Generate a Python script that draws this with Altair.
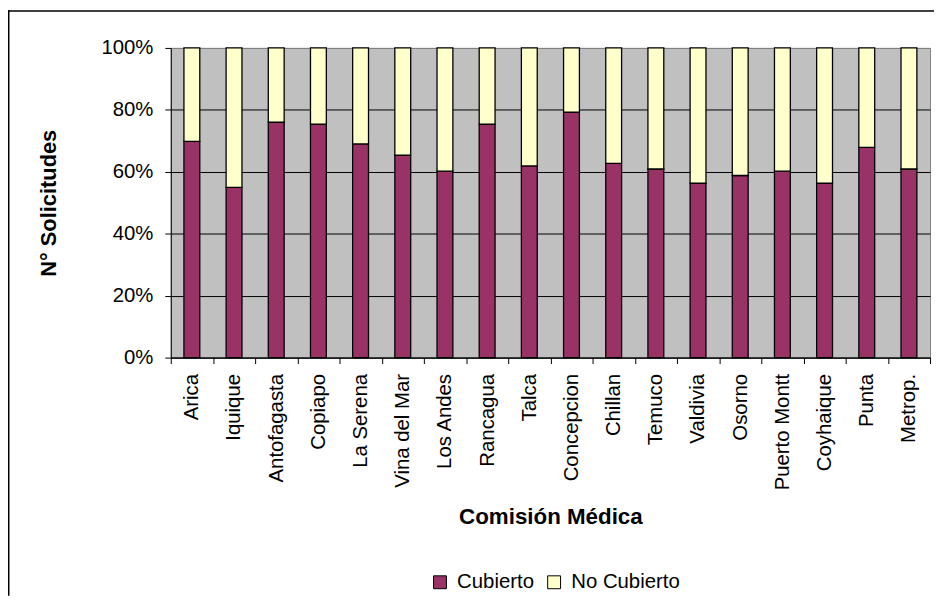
import altair as alt
import pandas as pd

categories = ["Arica", "Iquique", "Antofagasta", "Copiapo", "La Serena", "Vina del Mar",
              "Los Andes", "Rancagua", "Talca", "Concepcion", "Chillan", "Temuco",
              "Valdivia", "Osorno", "Puerto Montt", "Coyhaique", "Punta", "Metrop."]
cubierto = [69.8, 55.0, 76.0, 75.4, 69.0, 65.4, 60.2, 75.4, 61.9, 79.3,
            62.7, 60.9, 56.3, 58.8, 60.2, 56.3, 67.9, 60.9]
series = ["Cubierto", "No Cubierto"]
colors = ["#993366", "#FFFFCC"]
y_ticks = [0, 0.2, 0.4, 0.6, 0.8, 1.0]

rows = []
for c, v in zip(categories, cubierto):
    rows.append({"cat": c, "serie": series[0], "value": v / 100, "ord": 0})
    rows.append({"cat": c, "serie": series[1], "value": (100 - v) / 100, "ord": 1})
df = pd.DataFrame(rows)

FONT = "Liberation Sans"

bars = alt.Chart(df).mark_bar(
    width=alt.RelativeBandSize(0.376), stroke="black", strokeWidth=1.3
).encode(
    x=alt.X("cat:N", sort=categories,
            scale=alt.Scale(paddingInner=0, paddingOuter=0),
            axis=alt.Axis(title="Comisión Médica", labelAngle=-90, tickBand="extent",
                          tickSize=6, tickColor="black", domainColor="black",
                          labelFont=FONT, labelFontSize=20.5, labelColor="black",
                          labelPadding=10, labelOverlap=False,
                          titleFont=FONT, titleFontSize=22.5, titleFontWeight="bold",
                          titleColor="black", titleX=382.5, titleY=167,
                          titleBaseline="alphabetic", titleAlign="center", grid=False)),
    y=alt.Y("value:Q", stack="zero",
            scale=alt.Scale(domain=[0, 1], nice=False),
            axis=alt.Axis(values=y_ticks, format=".0%", grid=True,
                          gridColor={"condition": {"test": "datum.value >= 1", "value": "#808080"}, "value": "black"},
                          gridWidth=1, tickSize=6, tickColor="black", domainColor="black",
                          labelFont=FONT, labelFontSize=20.5, labelColor="black",
                          labelPadding=12, labelFlush=False,
                          title="N° Solicitudes", titleFont=FONT, titleFontSize=22,
                          titleFontWeight="bold", titleColor="black",
                          titleX=-123.5, titleY=156, titleAngle=-90,
                          titleBaseline="middle", titleAlign="center")),
    color=alt.Color("serie:N", scale=alt.Scale(domain=series, range=colors),
                    legend=alt.Legend(title=None, orient="none", legendX=261, legendY=528,
                                      direction="horizontal", symbolType="square",
                                      symbolSize=169, symbolStrokeColor="black",
                                      symbolStrokeWidth=1, symbolOpacity=1,
                                      labelFont=FONT, labelFontSize=20.5, labelColor="black",
                                      labelOffset=7, columnPadding=10, padding=0)),
    order=alt.Order("ord:Q", sort="ascending"),
)

frame_top = alt.Chart(alt.Data(values=[{}])).mark_rule(color="black", strokeWidth=1.5).encode(
    x=alt.value(-164), x2=alt.value(769), y=alt.value(-37.25))
frame_left = alt.Chart(alt.Data(values=[{}])).mark_rule(color="black", strokeWidth=1.5).encode(
    x=alt.value(-163.25), y=alt.value(-38), y2=alt.value(552))

chart = alt.layer(bars, frame_top, frame_left).properties(
    width=765, height=312,
    padding={"left": 164, "top": 38, "right": 4, "bottom": 240},
    autosize=alt.AutoSizeParams(type="none"),
    background="white",
).configure_view(fill="#C0C0C0", stroke="#808080", strokeWidth=1)

chart.save("out.html", embed_options={"renderer": "svg", "actions": False})
